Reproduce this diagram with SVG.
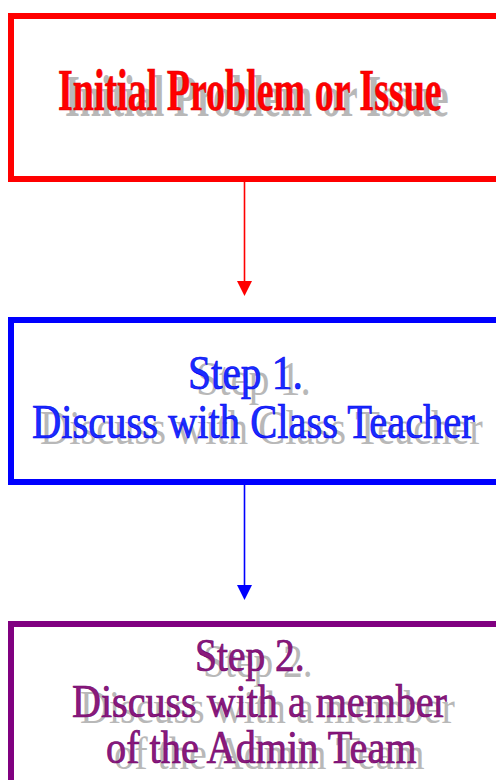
<svg xmlns="http://www.w3.org/2000/svg" width="496" height="780" viewBox="0 0 496 780">
<style>
.box{fill:#ffffff;stroke-width:6}
.t{font-family:"Liberation Serif","Times New Roman",serif;}
.sh{fill:#b8b8b8;}
.red{fill:#ff0000;stroke:#e00000;stroke-width:0.6}
.blue{fill:#1a2cff;stroke:#0000ee;stroke-width:0.7}
.pur{fill:#8a1a7a;stroke:#700070;stroke-width:0.7}
</style>
<rect width="496" height="780" fill="#ffffff"/>
<g id="connectors">
<line x1="244.5" y1="182" x2="244.5" y2="283" stroke="#ff0000" stroke-width="1.6"/>
<polygon points="237,281 252,281 244.5,296" fill="#ff0000"/>
<line x1="244.5" y1="485" x2="244.5" y2="587" stroke="#0000ff" stroke-width="1.6"/>
<polygon points="237,585 252,585 244.5,600" fill="#0000ff"/>
</g>
<g id="node-initial">
<rect class="box" x="11" y="16" width="500" height="163" stroke="#ff0000"/>
<text class="t sh" transform="translate(65,116) scale(0.63,1)" x="0" y="0" font-size="60" font-weight="bold" textLength="609" lengthAdjust="spacingAndGlyphs">Initial Problem or Issue</text>
<text class="t red" transform="translate(58,110) scale(0.63,1)" x="0" y="0" font-size="60" font-weight="bold" textLength="609" lengthAdjust="spacingAndGlyphs">Initial Problem or Issue</text>
</g>
<g id="node-step1">
<rect class="box" x="11" y="320" width="500" height="162" stroke="#0000ff"/>
<text class="t sh" transform="translate(196,395) scale(0.82,1)" x="0" y="0" font-size="49" textLength="140" lengthAdjust="spacingAndGlyphs">Step 1.</text>
<text class="t sh" transform="translate(40,444) scale(0.82,1)" x="0" y="0" font-size="49" textLength="540" lengthAdjust="spacingAndGlyphs">Discuss with Class Teacher</text>
<text class="t blue" transform="translate(188,389) scale(0.82,1)" x="0" y="0" font-size="49" textLength="140" lengthAdjust="spacingAndGlyphs">Step 1.</text>
<text class="t blue" transform="translate(32,438) scale(0.82,1)" x="0" y="0" font-size="49" textLength="540" lengthAdjust="spacingAndGlyphs">Discuss with Class Teacher</text>
</g>
<g id="node-step2">
<rect class="box" x="11" y="624" width="500" height="200" stroke="#800080"/>
<text class="t sh" transform="translate(203,677) scale(0.87,1)" x="0" y="0" font-size="46" textLength="126" lengthAdjust="spacingAndGlyphs">Step 2.</text>
<text class="t sh" transform="translate(80,723) scale(0.87,1)" x="0" y="0" font-size="46" textLength="431" lengthAdjust="spacingAndGlyphs">Discuss with a member</text>
<text class="t sh" transform="translate(114,769) scale(0.87,1)" x="0" y="0" font-size="46" textLength="357" lengthAdjust="spacingAndGlyphs">of the Admin Team</text>
<text class="t pur" transform="translate(195,671) scale(0.87,1)" x="0" y="0" font-size="46" textLength="126" lengthAdjust="spacingAndGlyphs">Step 2.</text>
<text class="t pur" transform="translate(72,717) scale(0.87,1)" x="0" y="0" font-size="46" textLength="431" lengthAdjust="spacingAndGlyphs">Discuss with a member</text>
<text class="t pur" transform="translate(106,763) scale(0.87,1)" x="0" y="0" font-size="46" textLength="357" lengthAdjust="spacingAndGlyphs">of the Admin Team</text>
</g>
</svg>
